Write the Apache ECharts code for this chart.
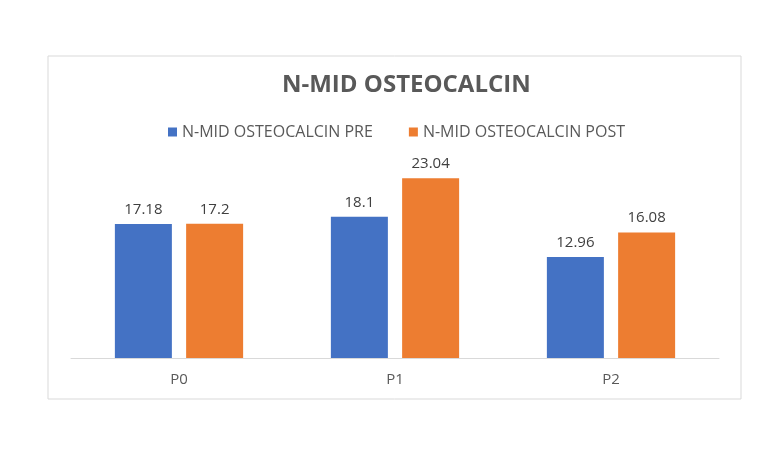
<!DOCTYPE html>
<html>
<head>
<meta charset="utf-8">
<script src="https://cdn.jsdelivr.net/npm/echarts@6/dist/echarts.min.js"></script>
<style>
  html, body { margin: 0; padding: 0; background: #fff; }
  #main { width: 784px; height: 452px; }
</style>
</head>
<body>
<div id="main"></div>
<script>
// data
var categories = ['P0', 'P1', 'P2'];
var preValues = [17.18, 18.1, 12.96];
var postValues = [17.2, 23.04, 16.08];
var seriesNames = ['N-MID OSTEOCALCIN PRE', 'N-MID OSTEOCALCIN POST'];

var font = '"Open Sans", "DejaVu Sans", sans-serif';

var myChart = echarts.init(document.getElementById('main'));

var labelStyle = {
    show: true,
    position: 'top',
    distance: 7,
    color: '#404040',
    fontSize: 15,
    fontFamily: font
};

myChart.setOption({
    animation: false,
    backgroundColor: '#fff',
    graphic: [
        {
            type: 'rect',
            shape: { x: 48, y: 56, width: 693, height: 343 },
            style: { fill: 'none', stroke: '#d9d9d9', lineWidth: 1 },
            silent: true
        }
    ],
    title: {
        text: 'N-MID OSTEOCALCIN',
        left: 277,
        top: 68,
        textStyle: {
            color: '#595959',
            fontSize: 24,
            fontWeight: 'bold',
            fontFamily: font
        }
    },
    legend: {
        data: seriesNames,
        left: 163,
        top: 119,
        itemWidth: 9,
        itemHeight: 9,
        itemGap: 36,
        icon: 'rect',
        textStyle: {
            color: '#595959',
            fontSize: 16,
            fontFamily: font
        }
    },
    grid: {
        left: 71,
        right: 65,
        top: 163,
        bottom: 94,
        containLabel: false
    },
    xAxis: {
        type: 'category',
        data: categories,
        axisLine: { lineStyle: { color: '#d9d9d9', width: 1 } },
        axisTick: { show: false },
        axisLabel: {
            color: '#595959',
            fontSize: 15,
            fontFamily: font,
            margin: 14
        }
    },
    yAxis: {
        type: 'value',
        min: 0,
        max: 25,
        interval: 5,
        show: false,
        splitLine: { show: false }
    },
    series: [
        {
            name: seriesNames[0],
            type: 'bar',
            data: preValues,
            barWidth: 57,
            barGap: '25%',
            itemStyle: { color: '#4472C4' },
            label: labelStyle
        },
        {
            name: seriesNames[1],
            type: 'bar',
            data: postValues,
            barWidth: 57,
            barGap: '25%',
            itemStyle: { color: '#ED7D31' },
            label: labelStyle
        }
    ]
});
</script>
</body>
</html>
